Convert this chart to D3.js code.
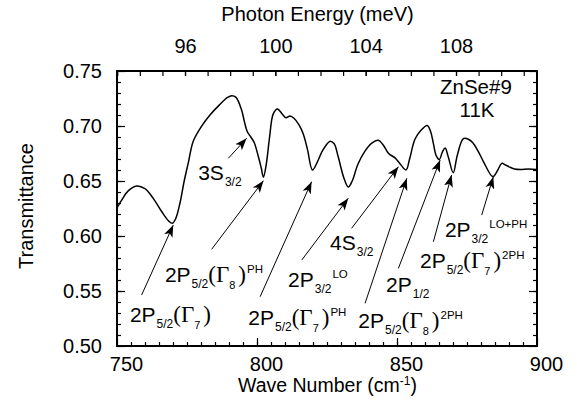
<!DOCTYPE html>
<html>
<head>
<meta charset="utf-8">
<title>ZnSe#9 transmittance</title>
<script src="https://d3js.org/d3.v7.min.js"></script>
<style>
  body { margin: 0; background: #fff; }
  svg text { font-family: "Liberation Sans", Arial, Helvetica, sans-serif; fill: #000; }
  .axis path { display: none; }
  .axis line { stroke: #000; stroke-width: 1.2px; }
  .arrow { stroke: #000; stroke-width: 1px; }
</style>
</head>
<body>
<div id="chart"></div>
<script>
// transmittance spectrum
var waveNumber = [750, 752, 754, 757, 760, 763, 766, 768.5, 769.8, 771, 772.5, 774, 775.5, 777.2, 780,
  783.2, 786.5, 789.5, 791, 792.5, 794.5, 795.5, 796.5, 797.8, 799, 800.5, 801.5, 802.3, 803.3, 804.5,
  805.8, 807.3, 809, 810.3, 811.8, 813.2, 815, 816.5, 818, 819.8, 821.5, 823.5, 826, 827.5, 829,
  831, 832.6, 834, 836, 838.5, 841, 843.3, 845, 847, 849.3, 851, 853.2, 854.5, 856.4, 858.5,
  860.8, 862, 863, 864, 865.1, 866.3, 867.2, 868.3, 870.1, 871.5, 873.7, 875.5, 877, 879, 881,
  884.2, 886, 887.4, 888.8, 890.4, 892, 894, 897, 900];
var transmittance = [0.6255, 0.634, 0.641, 0.6455, 0.643, 0.634, 0.622, 0.6135, 0.6115, 0.616, 0.630, 0.650, 0.667, 0.686, 0.699,
  0.710, 0.719, 0.726, 0.7275, 0.726, 0.7145, 0.704, 0.695, 0.690, 0.685, 0.672, 0.662, 0.6535, 0.665, 0.690,
  0.711, 0.7155, 0.711, 0.7075, 0.709, 0.707, 0.701, 0.693, 0.679, 0.660, 0.667, 0.678, 0.686, 0.684, 0.672,
  0.653, 0.6445, 0.650, 0.665, 0.677, 0.6845, 0.687, 0.683, 0.675, 0.671, 0.666, 0.660, 0.670, 0.688, 0.696,
  0.7005, 0.695, 0.684, 0.673, 0.6695, 0.677, 0.680, 0.672, 0.6575, 0.673, 0.6885, 0.688, 0.685, 0.677, 0.667,
  0.654, 0.660, 0.666, 0.6645, 0.6625, 0.661, 0.6605, 0.661, 0.6605];

var xTicks = [750, 800, 850, 900];
var yTicks = [0.50, 0.55, 0.60, 0.65, 0.70, 0.75];
var energyTicks = [96, 100, 104, 108];
var cmPerMeV = 8.0655;

// label parts: [text, kind]  kind: m main, s sub, p sup, g serif, gs serif sub
var labels = [
  { parts: [["2P","m"],["5/2","s"],["(Γ","g"],["7","gs"],[")","g"]], tail: [758.8, 0.5464], head: [770.1, 0.610], at: [754.6, 0.5221] },
  { parts: [["2P","m"],["5/2","s"],["(Γ","g"],["8","gs"],[")","g"],["PH","p"]], tail: [783.8, 0.5879], head: [802.3, 0.6503], at: [767.1, 0.5585] },
  { parts: [["3S","m"],["3/2","s"]], tail: [789.75, 0.6706], head: [796.3, 0.6888], at: [779.0, 0.6509] },
  { parts: [["2P","m"],["5/2","s"],["(Γ","g"],["7","gs"],[")","g"],["PH","p"]], tail: [801.1, 0.5448], head: [819.5, 0.6494], at: [796.9, 0.5191] },
  { parts: [["2P","m"],["3/2","s"],["LO","p"]], tail: [816.0, 0.5782], head: [832.6, 0.6343], at: [811.1, 0.5536] },
  { parts: [["4S","m"],["3/2","s"]], tail: [833.8, 0.607], head: [850.5, 0.663], at: [826.1, 0.5873] },
  { parts: [["2P","m"],["5/2","s"],["(Γ","g"],["8","gs"],[")","g"],["2PH","p"]], tail: [838.6, 0.5388], head: [853.5, 0.6525], at: [836.2, 0.5164] },
  { parts: [["2P","m"],["1/2","s"]], tail: [850.5, 0.5706], head: [865.4, 0.6691], at: [846.1, 0.5494] },
  { parts: [["2P","m"],["5/2","s"],["(Γ","g"],["7","gs"],[")","g"],["2PH","p"]], tail: [863.0, 0.5948], head: [869.5, 0.6555], at: [858.2, 0.5706] },
  { parts: [["2P","m"],["3/2","s"],["LO+PH","p"]], tail: [880.25, 0.619], head: [884.4, 0.6539], at: [867.1, 0.5994] }
];

var W = 577, H = 403;
var margin = {top: 71, right: 40, bottom: 57, left: 117};
var width = W - margin.left - margin.right, height = H - margin.top - margin.bottom;

var svg = d3.select("#chart").append("svg").attr("width", W).attr("height", H);
var defs = svg.append("defs");
defs.append("marker").attr("id", "head")
  .attr("markerUnits", "userSpaceOnUse")
  .attr("viewBox", "0 -5 12 10").attr("refX", 12).attr("refY", 0)
  .attr("markerWidth", 12).attr("markerHeight", 10).attr("orient", "auto")
  .append("path").attr("d", "M0,-4.5L12,0L0,4.5L3,0Z").attr("fill", "#000");

var g = svg.append("g").attr("transform", "translate(" + margin.left + "," + margin.top + ")");

var x = d3.scaleLinear().domain([750, 900]).range([0, width]);
var y = d3.scaleLinear().domain([0.50, 0.75]).range([height, 0]);
var xe = d3.scaleLinear().domain([750 / cmPerMeV, 900 / cmPerMeV]).range([0, width]);

// minor ticks
g.append("g").attr("class", "axis").attr("transform", "translate(0," + height + ")")
  .call(d3.axisBottom(x).tickValues(d3.range(755, 900, 5)).tickSize(-4).tickFormat(""));
g.append("g").attr("class", "axis")
  .call(d3.axisLeft(y).tickValues(d3.range(0.51, 0.75, 0.01)).tickSize(-4).tickFormat(""));
g.append("g").attr("class", "axis").attr("transform", "translate(" + width + ",0)")
  .call(d3.axisRight(y).tickValues(d3.range(0.51, 0.75, 0.01)).tickSize(-4).tickFormat(""));
g.append("g").attr("class", "axis")
  .call(d3.axisTop(xe).tickValues(d3.range(93, 112, 1)).tickSize(-5).tickFormat(""));

// major ticks
var xb = g.append("g").attr("class", "axis").attr("transform", "translate(0," + height + ")")
  .call(d3.axisBottom(x).tickValues(xTicks).tickSize(-8).tickPadding(11));
xb.selectAll("text").attr("dx", 9);
g.append("g").attr("class", "axis")
  .call(d3.axisLeft(y).tickValues(yTicks).tickSize(-8).tickPadding(15).tickFormat(d3.format(".2f")));
g.append("g").attr("class", "axis").attr("transform", "translate(" + width + ",0)")
  .call(d3.axisRight(y).tickValues(yTicks).tickSize(-8).tickFormat(""));
g.append("g").attr("class", "axis")
  .call(d3.axisTop(xe).tickValues(energyTicks).tickSize(-5).tickPadding(18));

g.selectAll(".axis text").style("font-size", "20px").style("font-family", null);

g.append("rect").attr("width", width).attr("height", height)
  .attr("fill", "none").attr("stroke", "#000").attr("stroke-width", 2);

// spectrum
var pts = waveNumber.map(function (d, i) { return [d, transmittance[i]]; });
g.append("path").datum(pts)
  .attr("fill", "none").attr("stroke", "#000").attr("stroke-width", 1.5)
  .attr("d", d3.line().x(function (d) { return x(d[0]); }).y(function (d) { return y(d[1]); })
    .curve(d3.curveCatmullRom.alpha(0.5)));

// arrows
g.selectAll(".arrow").data(labels).enter().append("line").attr("class", "arrow")
  .attr("x1", function (d) { return x(d.tail[0]); }).attr("y1", function (d) { return y(d.tail[1]); })
  .attr("x2", function (d) { return x(d.head[0]); }).attr("y2", function (d) { return y(d.head[1]); })
  .attr("marker-end", "url(#head)");

var kinds = {
  m:  {size: 21, shift: 0, serif: false},
  s:  {size: 12, shift: 6, serif: false},
  p:  {size: 11.5, shift: -9, serif: false},
  g:  {size: 23, shift: 0, serif: true},
  gs: {size: 11, shift: 7, serif: false}
};

labels.forEach(function (lab) {
  var t = g.append("text").attr("x", x(lab.at[0])).attr("y", y(lab.at[1]));
  var prev = 0;
  lab.parts.forEach(function (p, i) {
    var k = kinds[p[1]];
    var ts = t.append("tspan").text(p[0]).attr("dy", k.shift - prev).style("font-size", k.size + "px");
    if (k.serif) ts.style("font-family", "'Liberation Serif', 'Times New Roman', serif");
    if (p[1] == "s") ts.attr("dx", 1);
    if (p[1] == "g" && p[0] == ")") ts.attr("dx", 3);
    if (p[1] == "p") ts.attr("dx", 1);
    prev = k.shift;
  });
});

g.append("text").attr("x", 440 - margin.left).attr("y", 94 - margin.top)
  .style("font-size", "20.5px").text("ZnSe#9");
g.append("text").attr("x", 477 - margin.left).attr("y", 116.5 - margin.top)
  .attr("text-anchor", "middle").style("font-size", "20.5px").text("11K");

// axis titles
svg.append("text").attr("x", 317.5).attr("y", 21).attr("text-anchor", "middle")
  .style("font-size", "20px").text("Photon Energy (meV)");
svg.append("text").attr("transform", "translate(33,206) rotate(-90)").attr("text-anchor", "middle")
  .style("font-size", "20px").text("Transmittance");
var xt = svg.append("text").attr("x", 327.5).attr("y", 392).attr("text-anchor", "middle")
  .style("font-size", "19.5px");
xt.append("tspan").text("Wave Number (cm");
xt.append("tspan").text("-1").attr("dy", -7).style("font-size", "12px");
xt.append("tspan").text(")").attr("dy", 7);
</script>
</body>
</html>
